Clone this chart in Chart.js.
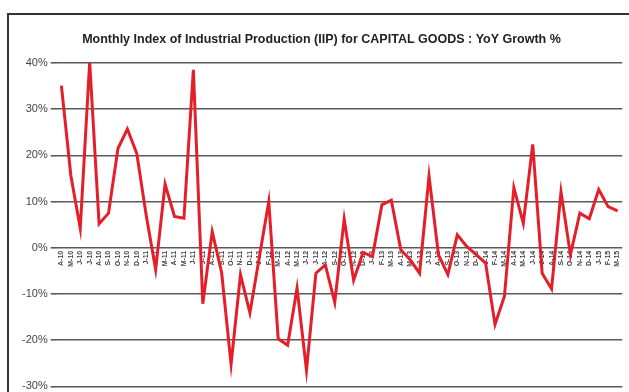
<!DOCTYPE html>
<html>
<head>
<meta charset="utf-8">
<script src="https://cdn.jsdelivr.net/npm/chart.js@4"></script>
<style>
  html, body { margin: 0; padding: 0; background: #fff; }
  #wrap { position: relative; width: 629px; height: 392px; overflow: hidden; }
  #frame {
    position: absolute; left: 7px; top: 13px; width: 640px; height: 400px;
    border-left: 2px solid #333; border-top: 2px solid #333;
  }
  #iipChart { position: absolute; left: 0; top: 0; }
</style>
</head>
<body>
<div id="wrap">
  <div id="frame"></div>
  <canvas id="iipChart" width="629" height="396"></canvas>
</div>
<script>
// Months Apr 2010 .. Mar 2015
const months = [
  'A-10','M-10','J-10','J-10','A-10','S-10','O-10','N-10','D-10','J-11','F-11','M-11',
  'A-11','M-11','J-11','J-11','A-11','S-11','O-11','N-11','D-11','J-12','F-12','M-12',
  'A-12','M-12','J-12','J-12','A-12','S-12','O-12','N-12','D-12','J-13','F-13','M-13',
  'A-13','M-13','J-13','J-13','A-13','S-13','O-13','N-13','D-13','J-14','F-14','M-14',
  'A-14','M-14','J-14','J-14','A-14','S-14','O-14','N-14','D-14','J-15','F-15','M-15'
];

// YoY growth %, capital goods
const growth = [
  35.1, 15.7, 4.2, 40.2, 5.2, 7.5, 21.5, 25.7, 20.4, 7.0, -4.7, 13.8,
  6.8, 6.4, 38.5, -12.1, 3.5, -5.4, -25.2, -5.8, -14.1, -2.0, 10.0, -19.7,
  -21.1, -8.7, -26.5, -5.5, -3.7, -11.8, 6.2, -7.0, -1.0, -1.9, 9.3, 10.3,
  -0.4, -2.6, -5.5, 15.5, -1.5, -5.8, 2.8, 0.3, -1.5, -3.3, -16.6, -10.5,
  13.0, 5.3, 22.4, -5.5, -8.9, 12.1, -1.5, 7.5, 6.3, 12.6, 8.9, 8.0
];

const yMin = -30, yMax = 40, yStep = 10;

new Chart(document.getElementById('iipChart'), {
    type: 'line',
    data: {
        labels: months,
        datasets: [{
            data: growth,
            borderColor: '#e51f2a',
            borderWidth: 3,
            pointRadius: 0,
            tension: 0,
            fill: false
        }]
    },
    options: {
        responsive: false,
        animation: false,
        layout: { padding: { top: 32, left: 19, right: 5, bottom: 0 } },
        plugins: {
            legend: { display: false },
            tooltip: { enabled: false },
            title: {
                display: true,
                text: 'Monthly Index of Industrial Production (IIP) for CAPITAL GOODS : YoY Growth %',
                color: '#222',
                font: { family: 'Liberation Sans, Arial, sans-serif', size: 12.5, weight: 'bold' },
                padding: { top: 0, bottom: 16 }
            }
        },
        scales: {
            x: {
                position: { y: 0 },
                offset: true,
                grid: { display: false, drawTicks: false },
                border: { display: false },
                ticks: {
                    autoSkip: false,
                    minRotation: 90,
                    maxRotation: 90,
                    padding: 3,
                    color: '#444',
                    font: { family: 'Liberation Sans, Arial, sans-serif', size: 7, weight: 'bold' }
                }
            },
            y: {
                min: yMin,
                max: yMax,
                border: { display: false },
                grid: { color: '#5a5a5a', lineWidth: 1.6, tickLength: 6 },
                ticks: {
                    stepSize: yStep,
                    padding: 3,
                    color: '#444',
                    font: { family: 'Liberation Sans, Arial, sans-serif', size: 11 },
                    callback: v => v + '%'
                }
            }
        }
    }
});
</script>
</body>
</html>
